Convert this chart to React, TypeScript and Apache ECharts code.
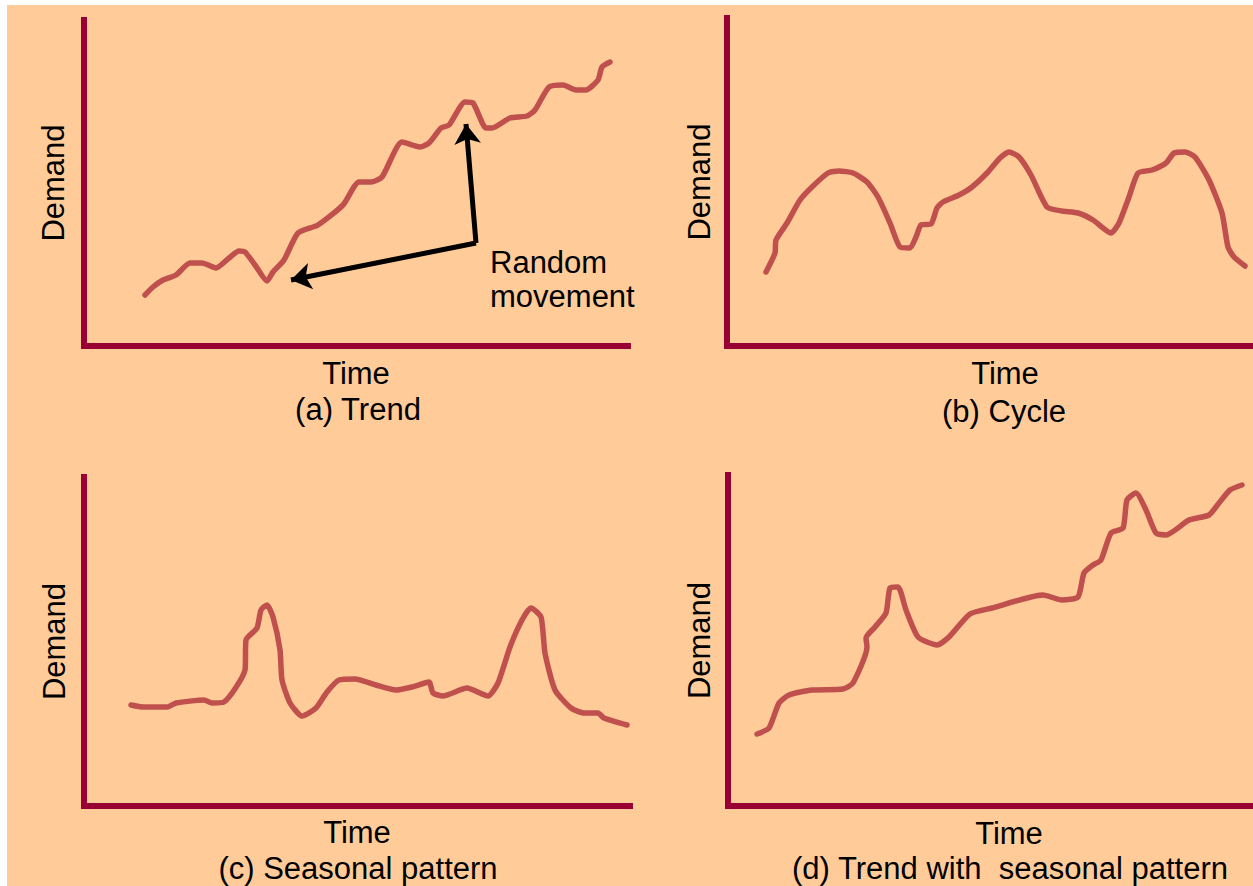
import React, { useEffect, useRef } from "react";
import * as echarts from "echarts";

// (a) Trend — time / demand readings (units from the axis origin)
const trendTime = [61, 69, 79, 92, 106, 118, 132, 145, 155, 161, 171, 183, 189, 200, 214, 234, 259, 275, 287, 298, 318, 336, 345, 357, 365, 381, 389, 402, 408, 426, 443, 451, 465, 479, 492, 502, 514, 518, 526];
const trendDemand = [51, 59, 66, 71, 83, 83, 78, 88, 95, 94, 81, 65, 74, 86, 113, 121, 141, 164, 164, 169, 204, 199, 203, 218, 221, 244, 243, 218, 218, 228, 230, 236, 259, 261, 256, 256, 266, 279, 284];

// (b) Cycle
const cycleTime = [39, 48, 49, 60, 73, 85, 101, 112, 126, 140, 151, 163, 173, 183, 189, 194, 204, 210, 216, 232, 245, 261, 273, 282, 292, 304, 320, 335, 351, 366, 384, 392, 402, 411, 425, 439, 447, 458, 468, 482, 495, 501, 507, 518];
const cycleDemand = [74, 93, 106, 123, 146, 159, 173, 175, 173, 164, 149, 123, 99, 98, 109, 121, 122, 138, 144, 151, 159, 174, 188, 194, 189, 171, 139, 135, 133, 126, 113, 123, 149, 173, 176, 183, 193, 194, 189, 166, 133, 99, 89, 80];

// (c) Seasonal pattern
const seasonTime = [47, 59, 83, 92, 120, 128, 140, 161, 162, 173, 177, 183, 189, 196, 198, 206, 218, 232, 243, 255, 271, 292, 312, 328, 345, 349, 359, 383, 404, 414, 426, 438, 447, 457, 461, 471, 487, 500, 514, 520, 543];
const seasonDemand = [101, 99, 99, 103, 106, 103, 104, 136, 166, 178, 196, 201, 189, 156, 126, 103, 90, 98, 114, 126, 127, 121, 116, 119, 124, 113, 110, 118, 110, 123, 159, 186, 198, 189, 153, 116, 98, 93, 93, 88, 81];

// (d) Trend with seasonal pattern
const trendSeasonTime = [29, 41, 51, 61, 84, 115, 125, 139, 138, 147, 158, 162, 170, 178, 190, 209, 221, 242, 264, 315, 334, 350, 356, 365, 373, 383, 395, 399, 408, 418, 428, 438, 461, 481, 491, 502, 514];
const trendSeasonDemand = [72, 78, 103, 111, 116, 117, 123, 159, 168, 179, 193, 218, 219, 196, 169, 161, 169, 192, 198, 211, 206, 209, 233, 241, 246, 273, 278, 306, 313, 296, 273, 271, 286, 291, 303, 316, 321];

// "Random movement" arrows in panel (a): [corner, tip]
const arrowCorner = [392, 103];
const arrowTips = [[382, 222], [207, 66]];

const panelCaptions = ["(a) Trend", "(b) Cycle", "(c) Seasonal pattern", "(d) Trend with  seasonal pattern"];
const xName = "Time";
const yName = "Demand";
const noteLines = ["Random", "movement"];

const BG = "#FFCC99";
const AXIS = "#990033";
const CURVE = "#C0504D";
const FONT = "'Liberation Sans', Arial, sans-serif";
const FS = 31;

const grids = [
  { left: 84, top: 20, width: 544, height: 326, yGap: 15, xGap: 12, shift: 0 },
  { left: 727, top: 18, width: 526, height: 328, yGap: 12, xGap: 12, shift: 30 },
  { left: 84, top: 477, width: 546, height: 329, yGap: 14, xGap: 11, shift: 0 },
  { left: 728, top: 475, width: 525, height: 331, yGap: 13, xGap: 12, shift: 37 },
];

const captionPos = [
  [358, 409],
  [1004, 411],
  [358, 868],
  [1010, 868],
];

function zip(a: number[], b: number[]) {
  return a.map((v, i) => [v, b[i]]);
}

export default function App() {
  const ref = useRef<HTMLDivElement>(null);
  useEffect(() => {
    if (!ref.current) return;
    const chart = echarts.init(ref.current, null, { renderer: "svg" });
    const series = [
      zip(trendTime, trendDemand),
      zip(cycleTime, cycleDemand),
      zip(seasonTime, seasonDemand),
      zip(trendSeasonTime, trendSeasonDemand),
    ];
    const option: any = {
      animation: false,
      backgroundColor: "#ffffff",
      grid: grids.map((g) => ({ left: g.left, top: g.top, width: g.width, height: g.height, containLabel: false })),
      xAxis: grids.map((g, i) => ({
        type: "value",
        gridIndex: i,
        min: 0,
        max: g.width,
        name: xName,
        nameLocation: "middle",
        nameGap: g.xGap,
        nameTextStyle: { fontSize: FS, fontFamily: FONT, color: "#000", verticalAlign: "top", padding: [0, 0, 0, g.shift] },
        axisLine: { show: true, onZero: false, lineStyle: { color: AXIS, width: 6, cap: "square" } },
        axisTick: { show: false },
        axisLabel: { show: false },
        splitLine: { show: false },
      })),
      yAxis: grids.map((g, i) => ({
        type: "value",
        gridIndex: i,
        min: 0,
        max: g.height,
        name: yName,
        nameLocation: "middle",
        nameGap: g.yGap,
        nameRotate: 90,
        nameTextStyle: { fontSize: FS, fontFamily: FONT, color: "#000" },
        axisLine: { show: true, onZero: false, lineStyle: { color: AXIS, width: 6, cap: "square" } },
        axisTick: { show: false },
        axisLabel: { show: false },
        splitLine: { show: false },
      })),
      series: [
        ...series.map((d, i) => ({
          type: "line",
          xAxisIndex: i,
          yAxisIndex: i,
          data: d,
          smooth: 0.2,
          showSymbol: false,
          symbol: "none",
          z: 3,
          lineStyle: { color: CURVE, width: 5.5, cap: "round", join: "round" },
        })),
        {
          type: "lines",
          coordinateSystem: "cartesian2d",
          xAxisIndex: 0,
          yAxisIndex: 0,
          z: 4,
          symbol: ["none", "arrow"],
          symbolSize: 20,
          lineStyle: { color: "#000", width: 5, curveness: 0, opacity: 1, join: "miter" },
          data: arrowTips.map((t) => ({ coords: [arrowCorner, t] })),
        },
      ],
      graphic: [
        { type: "rect", z: -10, silent: true, shape: { x: 7, y: 5, width: 1253, height: 890 }, style: { fill: BG } },
        ...panelCaptions.map((c, i) => ({
          type: "text",
          x: captionPos[i][0],
          y: captionPos[i][1],
          style: { text: c, fontSize: FS, fontFamily: FONT, fill: "#000", align: "center", verticalAlign: "middle" },
        })),
        {
          type: "text",
          x: 490,
          y: 279,
          style: { text: noteLines.join("\n"), fontSize: FS, lineHeight: 34, fontFamily: FONT, fill: "#000", align: "left", verticalAlign: "middle" },
        },
      ],
    };
    chart.setOption(option);
    return () => chart.dispose();
  }, []);
  return (
    <div
      ref={ref}
      style={{ position: "fixed", left: 0, top: 0, width: 1253, height: 886 }}
    />
  );
}
